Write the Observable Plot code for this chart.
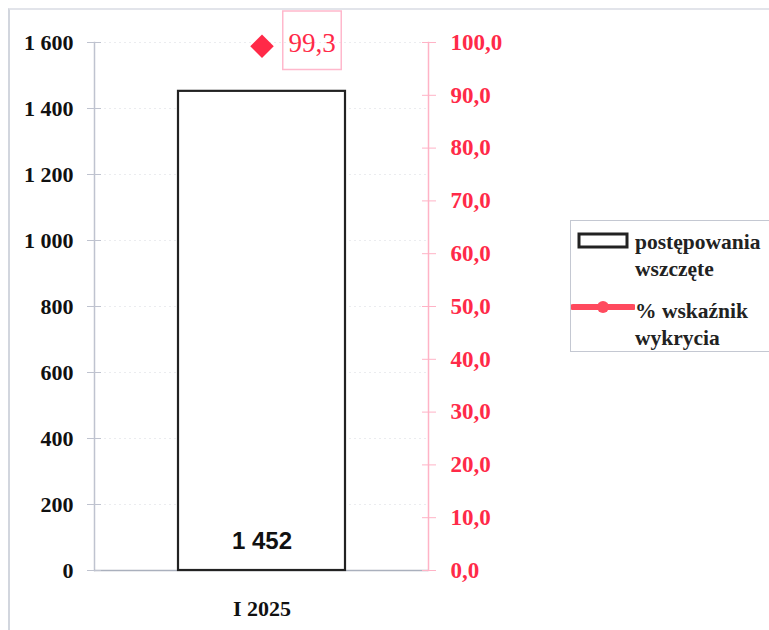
<!DOCTYPE html>
<html>
<head>
<meta charset="utf-8">
<script src="https://cdn.jsdelivr.net/npm/d3@7"></script>
<script src="https://cdn.jsdelivr.net/npm/@observablehq/plot@0.6"></script>
<style>
  body { margin: 0; background: #fff; }
  #wrap { position: relative; width: 769px; height: 630px; overflow: hidden; }
  #frame { position: absolute; left: 8px; top: 8px; width: 800px; height: 700px; border: 2px solid #e2e4ea; border-left-color: #d2d6de; box-sizing: border-box; }
  #chart { position: absolute; left: 0; top: 0; }
  #legend { position: absolute; left: 570px; top: 220px; width: 220px; height: 132px; border: 1.5px solid #c4c8d2; box-sizing: border-box; background: #fff;
            font-family: "Liberation Serif", serif; font-weight: bold; font-size: 21.5px; color: #222; }
  .item { position: absolute; left: 0; }
  .item svg { position: absolute; left: 0; }
  .item .t { position: absolute; left: 64px; line-height: 27px; white-space: nowrap; }
</style>
</head>
<body>
<div id="wrap">
  <div id="frame"></div>
  <div id="chart"></div>
  <div id="legend">
    <div class="item" style="top:8px;">
      <svg width="62" height="24"><rect x="8" y="5" width="48" height="13" fill="#fff" stroke="#222" stroke-width="3"/></svg>
      <div class="t" id="lg1" style="top:0px;"></div>
    </div>
    <div class="item" style="top:72px;">
      <svg width="64" height="24"><line x1="2" y1="14" x2="62" y2="14" stroke="#ff4a5e" stroke-width="6" stroke-linecap="round"/><circle cx="32" cy="14" r="6" fill="#ff4a5e"/></svg>
      <div class="t" id="lg2" style="top:5px;"></div>
    </div>
  </div>
</div>
<script>
// ---- data ----
const categories = ["I 2025"];
const casesStarted = [1452];          // postępowania wszczęte
const detectionRate = [99.3];         // % wskaźnik wykrycia
const leftTicks = [0, 200, 400, 600, 800, 1000, 1200, 1400, 1600];
const rightTicks = [0, 10, 20, 30, 40, 50, 60, 70, 80, 90, 100];
const seriesNames = ["postępowania<br>wszczęte", "% wskaźnik<br>wykrycia"];

document.getElementById("lg1").innerHTML = seriesNames[0];
document.getElementById("lg2").innerHTML = seriesNames[1];

const leftMax = leftTicks[leftTicks.length - 1];
const rightMax = rightTicks[rightTicks.length - 1];
const k = leftMax / rightMax;

const locale = d3.formatLocale({decimal: ",", thousands: " ", grouping: [3], currency: ["", ""]});
const fmtInt = locale.format(",d");
const fmt1 = locale.format(".1f");

const data = categories.map((c, i) => ({cat: c, value: casesStarted[i], rate: detectionRate[i]}));

const red = "#ff2a48";
const serif = "Liberation Serif, serif";
const blank = () => "";

const chart = Plot.plot({
  width: 769,
  height: 630,
  marginLeft: 94,
  marginRight: 341,
  marginTop: 42,
  marginBottom: 60,
  style: {background: "transparent", overflow: "visible"},
  x: {domain: categories, paddingInner: 0, paddingOuter: 0.5, axis: null, label: null},
  y: {domain: [0, leftMax], axis: null, label: null},
  marks: [
    Plot.gridY(leftTicks.filter(d => d > 0), {stroke: "#aeb3c0", strokeOpacity: 0.25, strokeDasharray: "2,3"}),
    Plot.frame({anchor: "left", stroke: "#bfc3cf", strokeWidth: 1.5}),
    Plot.frame({anchor: "right", stroke: "#ffb3c6", strokeWidth: 1.5}),
    Plot.ruleY([0], {stroke: "#aab0bd", strokeWidth: 1.5}),
    // left axis
    Plot.axisY({anchor: "left", label: null, ticks: leftTicks, tickSize: 7, tickPadding: 14, tickFormat: fmtInt,
      stroke: "#bfc3cf", fill: "#111", fontSize: 22, fontWeight: "bold", fontFamily: serif}),
    Plot.axisY({anchor: "left", label: null, ticks: leftTicks, tickSize: -7, tickFormat: blank, stroke: "#bfc3cf"}),
    // right axis (percent)
    Plot.axisY({anchor: "right", label: null, ticks: rightTicks.map(d => d * k), tickSize: 7, tickPadding: 15,
      tickFormat: d => fmt1(d / k), stroke: "#ffb3c6", fill: red, fontSize: 23, fontWeight: "bold", fontFamily: serif,
      letterSpacing: 1.2}),
    Plot.axisY({anchor: "right", label: null, ticks: rightTicks.map(d => d * k), tickSize: -7, tickFormat: blank, stroke: "#ffb3c6"}),
    // x axis
    Plot.axisX({label: null, tickSize: 0, tickPadding: 30, fill: "#111", fontSize: 22, fontWeight: "bold", fontFamily: serif,
      letterSpacing: 0.5}),
    // bar
    Plot.barY(data, {x: "cat", y: "value", fill: "white", stroke: "#222", strokeWidth: 2.2}),
    Plot.text(data, {x: "cat", y: 0, text: d => fmtInt(d.value), dy: -29, fontSize: 24, fontWeight: "bold",
      fontFamily: "Liberation Sans, Arial, sans-serif", fill: "#111"}),
    // detection rate point
    Plot.dot(data, {x: "cat", y: d => d.rate * k, symbol: "diamond2", r: 10.6, fill: red, stroke: "none"}),
    Plot.dot(data, {x: "cat", y: d => d.rate * k, symbol: "square", r: 33, dx: 50, dy: -6, fill: "none", stroke: "#ffb8cc", strokeWidth: 1.5}),
    Plot.text(data, {x: "cat", y: d => d.rate * k, text: d => fmt1(d.rate), dx: 50, dy: -3, fill: red,
      fontSize: 27, fontFamily: serif})
  ]
});
document.getElementById("chart").appendChild(chart);
</script>
</body>
</html>
